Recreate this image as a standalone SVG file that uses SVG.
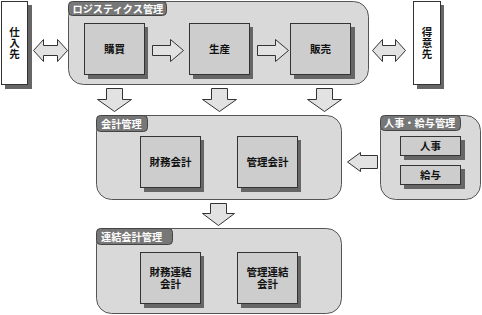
<svg xmlns="http://www.w3.org/2000/svg" width="482" height="315" viewBox="0 0 482 315">
<style>
text{font-family:"Noto Sans CJK JP","Noto Sans CJK SC",sans-serif;font-weight:bold;font-size:10.5px;text-anchor:middle;fill:#111}
.vert{writing-mode:vertical-rl;letter-spacing:0.5px}
.cont{fill:#d9d9d9;stroke:#555;stroke-width:1}
.tab{fill:#777;stroke:#444;stroke-width:1}
.tabt{fill:#fff;font-size:10.2px;text-anchor:start}
.box{fill:#cdcdcd;stroke:#333;stroke-width:1}
.sh{fill:#666}
.ext{fill:#fff;stroke:#333;stroke-width:1}
.arr{fill:#e2e2e2;stroke:#333;stroke-width:1}
</style>
<rect width="482" height="315" fill="#fff"/>
<g id="shiiresaki">
<rect class="sh" x="5" y="5" width="27" height="84"/>
<rect class="ext" x="1.5" y="1.5" width="26" height="83"/>
<text class="vert" x="14.5" y="43">仕入先</text>
</g>
<g id="tokuisaki">
<rect class="sh" x="417" y="5" width="27" height="84"/>
<rect class="ext" x="413.5" y="1.5" width="27" height="83"/>
<text class="vert" x="427" y="43">得意先</text>
</g>
<g id="logistics">
<rect class="cont" x="68.5" y="1.5" width="300" height="83" rx="15"/>
<rect class="tab" x="68.5" y="1.5" width="98" height="14" rx="4"/>
<text class="tabt" x="72.5" y="12.5">ロジスティクス管理</text>
</g>
<g id="koubai">
<rect class="sh" x="88" y="27" width="60" height="52"/>
<rect class="box" x="84.5" y="23.5" width="60" height="51"/>
<text x="114.5" y="53">購買</text>
</g>
<g id="seisan">
<rect class="sh" x="193" y="27" width="60" height="52"/>
<rect class="box" x="189.5" y="23.5" width="60" height="51"/>
<text x="219.5" y="53">生産</text>
</g>
<g id="hanbai">
<rect class="sh" x="294" y="27" width="61" height="52"/>
<rect class="box" x="290.5" y="23.5" width="60" height="51"/>
<text x="320.5" y="53">販売</text>
</g>
<g id="kaikei">
<rect class="cont" x="96.5" y="115.5" width="245" height="84" rx="15"/>
<rect class="tab" x="96.5" y="115.5" width="51" height="16" rx="4"/>
<text class="tabt" x="101" y="127.5">会計管理</text>
</g>
<g id="zaimu">
<rect class="sh" x="144" y="140" width="60" height="52"/>
<rect class="box" x="140.5" y="136.5" width="60" height="51"/>
<text x="170.5" y="166">財務会計</text>
</g>
<g id="kanri">
<rect class="sh" x="241" y="140" width="60" height="52"/>
<rect class="box" x="237.5" y="136.5" width="60" height="51"/>
<text x="267.5" y="166">管理会計</text>
</g>
<g id="jinji-kyuyo">
<rect class="cont" x="380.5" y="115.5" width="100" height="84" rx="15"/>
<rect class="tab" x="380.5" y="115.5" width="80" height="15" rx="4"/>
<text class="tabt" x="384" y="127">人事・給与管理</text>
</g>
<g id="jinji">
<rect class="sh" x="404" y="140" width="61" height="20"/>
<rect class="box" x="400.5" y="136.5" width="60" height="19"/>
<text x="430.5" y="150">人事</text>
</g>
<g id="kyuyo">
<rect class="sh" x="404" y="169" width="61" height="20"/>
<rect class="box" x="400.5" y="165.5" width="60" height="19"/>
<text x="430.5" y="179">給与</text>
</g>
<g id="renketsu">
<rect class="cont" x="96.5" y="228.5" width="245" height="85" rx="15"/>
<rect class="tab" x="96.5" y="228.5" width="76" height="16" rx="4"/>
<text class="tabt" x="101" y="240.5">連結会計管理</text>
</g>
<g id="zaimu-renketsu">
<rect class="sh" x="144" y="256" width="60" height="52"/>
<rect class="box" x="140.5" y="252.5" width="60" height="51"/>
<text x="170.5" y="276">財務連結<tspan x="170.5" dy="11.5">会計</tspan></text>
</g>
<g id="kanri-renketsu">
<rect class="sh" x="241" y="256" width="60" height="52"/>
<rect class="box" x="237.5" y="252.5" width="60" height="51"/>
<text x="267.5" y="276">管理連結<tspan x="267.5" dy="11.5">会計</tspan></text>
</g>
<g id="connectors">
<path class="arr" d="M33.5,50.5 L43.5,39.5 L43.5,45.5 L57.5,45.5 L57.5,39.5 L67.5,50.5 L57.5,61.5 L57.5,55.5 L43.5,55.5 L43.5,61.5 Z"/>
<path class="arr" d="M372.5,50.5 L382.5,39.5 L382.5,45.5 L395.5,45.5 L395.5,39.5 L405.5,50.5 L395.5,61.5 L395.5,55.5 L382.5,55.5 L382.5,61.5 Z"/>
<path class="arr" d="M152.5,45.5 L170.5,45.5 L170.5,39.5 L183.5,50.5 L170.5,61.5 L170.5,55.5 L152.5,55.5 Z"/>
<path class="arr" d="M257.5,45.5 L275.5,45.5 L275.5,39.5 L288.5,50.5 L275.5,61.5 L275.5,55.5 L257.5,55.5 Z"/>
<path class="arr" d="M106.5,88.5 L122.5,88.5 L122.5,99.5 L131.5,99.5 L114.5,111.5 L97.5,99.5 L106.5,99.5 Z"/>
<path class="arr" d="M211.5,88.5 L227.5,88.5 L227.5,99.5 L236.5,99.5 L219.5,111.5 L202.5,99.5 L211.5,99.5 Z"/>
<path class="arr" d="M316.5,88.5 L332.5,88.5 L332.5,99.5 L341.5,99.5 L324.5,111.5 L307.5,99.5 L316.5,99.5 Z"/>
<path class="arr" d="M210.5,203.5 L226.5,203.5 L226.5,213.5 L234.5,213.5 L218.5,225.5 L202.5,213.5 L210.5,213.5 Z"/>
<path class="arr" d="M347.5,162 L360.5,152.5 L360.5,155.5 L377.5,155.5 L377.5,168.5 L360.5,168.5 L360.5,171.5 Z"/>
</g>
</svg>
